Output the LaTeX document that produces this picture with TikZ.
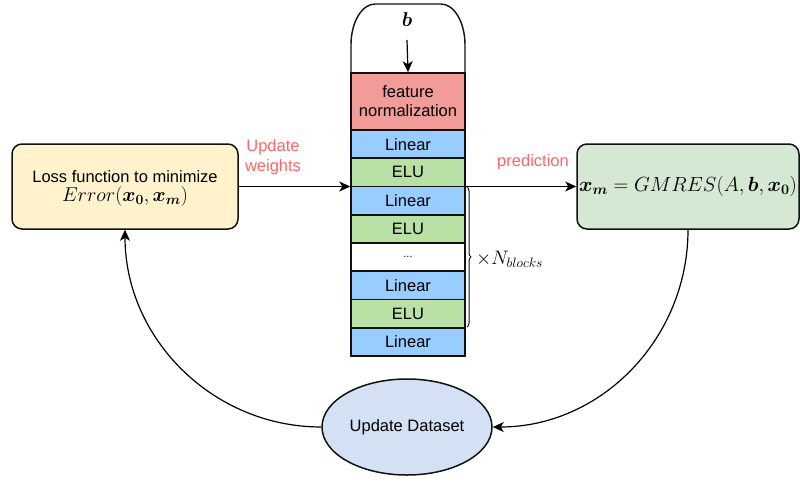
\RequirePackage{fix-cm}
\documentclass[tikz,border=0pt]{standalone}
\usepackage{bm}
\usepackage[no-math]{fontspec}
\setmainfont{Liberation Sans}
\usetikzlibrary{shapes.geometric,arrows.meta,decorations.pathreplacing}
\definecolor{lossc}{HTML}{FFF2CC}
\definecolor{gmresc}{HTML}{D5E8D4}
\definecolor{featc}{HTML}{F19C99}
\definecolor{linc}{HTML}{99CCFF}
\definecolor{eluc}{HTML}{B9E0A5}
\definecolor{dsc}{HTML}{D4E1F5}
\definecolor{redtxt}{HTML}{FF6666}
\definecolor{edge}{HTML}{111111}
\tikzset{
  box/.style={draw=edge, line width=1.5pt, rounded corners=10pt, align=center, inner sep=0pt},
  layer/.style={draw=edge, line width=1.5pt, minimum width=114pt, minimum height=28.25pt, inner sep=0pt},
  linlayer/.style={layer, fill=linc},
  elulayer/.style={layer, fill=eluc},
  conn/.style={line width=1.2pt, -{Stealth[length=11pt,width=10pt,inset=3pt]}},
  redlbl/.style={text=redtxt, align=center},
}
\begin{document}
\begin{tikzpicture}[x=1pt,y=1pt,font=\fontsize{16.5}{19}\selectfont]
\useasboundingbox (0,0) rectangle (800,-490);

% top arch
\draw[line width=1.4pt, draw=edge] (351,-73) -- (351,-45)
  arc[start angle=180, end angle=90, x radius=24, y radius=41] -- (441,-4)
  arc[start angle=90, end angle=0, x radius=24, y radius=41] -- (465,-73);

% stack
\node[layer, fill=featc, minimum height=57pt, align=center] (feat) at (408,-101.5) {feature\\normalization};
\node[linlayer] (lin1) at (408,-144.1) {Linear};
\node[elulayer] (elu1) at (408,-172.4) {ELU};
\node[linlayer] (lin2) at (408,-200.6) {Linear};
\node[elulayer] (elu2) at (408,-228.9) {ELU};
\node[layer, fill=white] (dots) at (408,-257.1) {\fontsize{11}{12}\selectfont ...};
\node[linlayer] (lin3) at (408,-285.4) {Linear};
\node[elulayer] (elu3) at (408,-313.6) {ELU};
\node[linlayer] (lin4) at (408,-341.9) {Linear};

% b input
\node (b) at (407,-20) {\fontsize{20}{24}\selectfont $\bm{b}$};
\coordinate (bstart) at (407,-40);
\draw[conn] (bstart) -- (feat.north);

% loss box
\node[box, fill=lossc, minimum width=226pt, minimum height=85pt, text depth=0pt] (loss) at (125,-186.5)
  {Loss function to minimize\\[0pt] {\fontsize{20}{22}\selectfont $Error(\bm{x_0},\bm{x_m})$}};

% gmres box
\node[box, fill=gmresc, minimum width=222pt, minimum height=85pt] (gmres) at (688,-186.5)
  {\fontsize{20.5}{24}\selectfont $\bm{x_m}=GMRES(A,\bm{b},\bm{x_0})$};

% dataset ellipse
\node[ellipse, draw=edge, line width=1.5pt, fill=dsc, minimum width=170pt, minimum height=96pt, inner sep=0pt] (ds) at (407,-427) {Update Dataset};

% connectors
\draw[conn] (loss.east) -- (loss.east -| elu1.west);
\draw[conn] (gmres.west -| elu1.east) -- (gmres.west);
\draw[conn] (ds.west) to[out=180, in=-90] (loss.south);
\draw[conn] (gmres.south) to[out=-90, in=0] (ds.east);

% labels
\node[redlbl, font=\fontsize{16.5}{20}\selectfont] (uw) at (273,-157) {Update\\weights};
\node[redlbl] (pred) at (533,-162) {prediction};

% brace
\coordinate (bra) at (467,-187);
\coordinate (brb) at (467,-327);
\draw[line width=1pt, draw=edge, decorate, decoration={brace, amplitude=4pt}] (bra) -- (brb);
\node[anchor=west, inner sep=0pt] (nb) at (476,-259) {\fontsize{19.5}{22}\selectfont $\times N_{blocks}$};
\end{tikzpicture}
\end{document}
